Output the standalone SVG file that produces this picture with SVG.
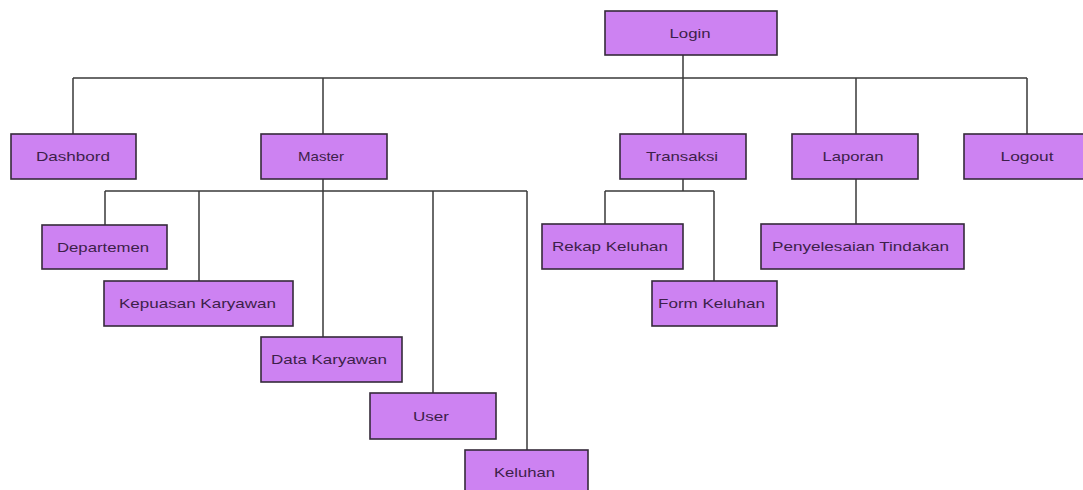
<svg xmlns="http://www.w3.org/2000/svg" width="1083" height="490" viewBox="0 0 1083 490">
<style>
.box{fill:#cd82f2;stroke:#352a3a;stroke-width:1.6}
.lbl{font-family:"Liberation Sans",Arial,sans-serif;font-size:13px;fill:#3d1f4a;text-anchor:middle}
.con{fill:none;stroke:#3a3a3a;stroke-width:1.5}
</style>
<rect width="1083" height="490" fill="#ffffff"/>
<g id="connectors" class="con">
<path d="M683,55V78M73,78H1027M73,78V134M323,78V134M683,78V134M856,78V134M1027,78V134"/>
<path d="M323,179V191M105,191H527M105,191V225M199,191V281M323,191V337M433,191V393M527,191V450"/>
<path d="M683,179V191M605,191H714M605,191V224M714,191V281"/>
<path d="M856,179V224"/>
</g>
<g id="login"><rect class="box" x="605" y="11" width="172" height="44"/><text class="lbl" x="690" y="37.5" textLength="41" lengthAdjust="spacingAndGlyphs">Login</text></g>
<g id="dashbord"><rect class="box" x="11" y="134" width="125" height="45"/><text class="lbl" x="73" y="161" textLength="74" lengthAdjust="spacingAndGlyphs">Dashbord</text></g>
<g id="master"><rect class="box" x="261" y="134" width="126" height="45"/><text class="lbl" x="321" y="161" textLength="46" lengthAdjust="spacingAndGlyphs">Master</text></g>
<g id="transaksi"><rect class="box" x="620" y="134" width="126" height="45"/><text class="lbl" x="682" y="161" textLength="72" lengthAdjust="spacingAndGlyphs">Transaksi</text></g>
<g id="laporan"><rect class="box" x="792" y="134" width="126" height="45"/><text class="lbl" x="853" y="161" textLength="61" lengthAdjust="spacingAndGlyphs">Laporan</text></g>
<g id="logout"><rect class="box" x="964" y="134" width="126" height="45"/><text class="lbl" x="1027" y="161" textLength="53" lengthAdjust="spacingAndGlyphs">Logout</text></g>
<g id="departemen"><rect class="box" x="42" y="225" width="125" height="44"/><text class="lbl" x="103" y="251.5" textLength="92" lengthAdjust="spacingAndGlyphs">Departemen</text></g>
<g id="kepuasan-karyawan"><rect class="box" x="104" y="281" width="189" height="45"/><text class="lbl" x="197.5" y="308" textLength="157" lengthAdjust="spacingAndGlyphs">Kepuasan Karyawan</text></g>
<g id="data-karyawan"><rect class="box" x="261" y="337" width="141" height="45"/><text class="lbl" x="329" y="364" textLength="116" lengthAdjust="spacingAndGlyphs">Data Karyawan</text></g>
<g id="user"><rect class="box" x="370" y="393" width="126" height="46"/><text class="lbl" x="431" y="420.5" textLength="36" lengthAdjust="spacingAndGlyphs">User</text></g>
<g id="keluhan"><rect class="box" x="465" y="450" width="123" height="46"/><text class="lbl" x="524.5" y="477" textLength="61" lengthAdjust="spacingAndGlyphs">Keluhan</text></g>
<g id="rekap-keluhan"><rect class="box" x="542" y="224" width="141" height="45"/><text class="lbl" x="610" y="251" textLength="116" lengthAdjust="spacingAndGlyphs">Rekap Keluhan</text></g>
<g id="form-keluhan"><rect class="box" x="652" y="281" width="125" height="45"/><text class="lbl" x="711.5" y="308" textLength="107" lengthAdjust="spacingAndGlyphs">Form Keluhan</text></g>
<g id="penyelesaian-tindakan"><rect class="box" x="761" y="224" width="203" height="45"/><text class="lbl" x="860.5" y="251" textLength="177" lengthAdjust="spacingAndGlyphs">Penyelesaian Tindakan</text></g>
</svg>
